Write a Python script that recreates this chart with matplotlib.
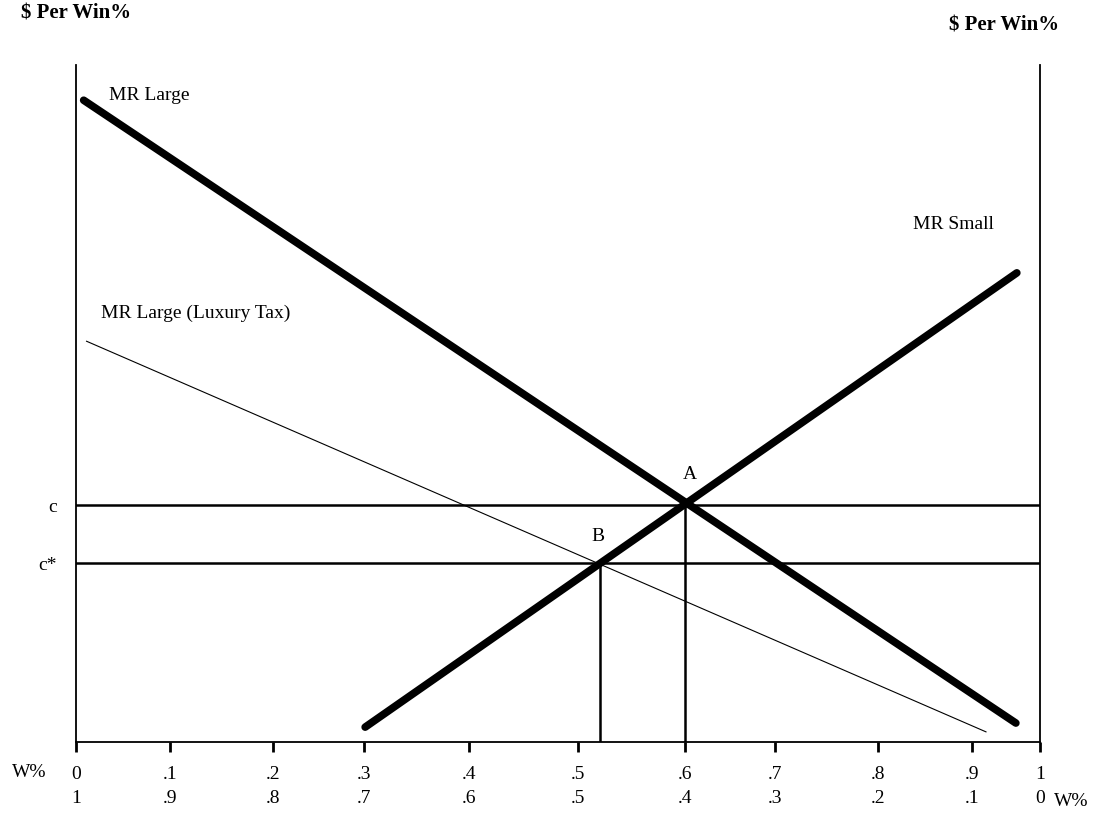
import numpy as np
import matplotlib.pyplot as plt

plt.rcParams['font.family'] = ['Liberation Serif', 'DejaVu Serif']

# curves: (x from 0 to 1 in W%, y in $ per win% on a 0-100 scale)
mr_large_x = [0.008, 0.975]
mr_large_y = [94.8, 2.8]
mr_small_x = [0.30, 0.976]
mr_small_y = [2.2, 69.3]
mr_tax_x = [0.011, 0.944]
mr_tax_y = [59.2, 1.5]

c_level = 35.0
c_star_level = 26.4
point_a = (0.632, 35.0)
point_b = (0.544, 26.4)

# hand-drawn tick spots on the W% axis
tick_pos = [0, 0.0975, 0.204, 0.299, 0.408, 0.521, 0.632, 0.725, 0.832, 0.930, 1.0]
tick_top = ['0', '.1', '.2', '.3', '.4', '.5', '.6', '.7', '.8', '.9', '1']
tick_bottom = ['1', '.9', '.8', '.7', '.6', '.5', '.4', '.3', '.2', '.1', '0']

fig = plt.figure(figsize=(11.04, 8.19), dpi=100)
ax = fig.add_axes([0.0688, 0.094, 0.8732, 0.8266])
ax.set_xlim(0, 1)
ax.set_ylim(0, 100)

ax.plot(mr_large_x, mr_large_y, color='black', lw=5.5, solid_capstyle='round')
ax.plot(mr_small_x, mr_small_y, color='black', lw=5.5, solid_capstyle='round')
ax.plot(mr_tax_x, mr_tax_y, color='black', lw=0.8)

ax.axhline(c_level, color='black', lw=1.8)
ax.axhline(c_star_level, color='black', lw=1.8)
ax.plot([point_a[0], point_a[0]], [0, point_a[1]], color='black', lw=1.8)
ax.plot([point_b[0], point_b[0]], [0, point_b[1]], color='black', lw=1.8)

fs = 14
ax.text(point_a[0] + 0.005, point_a[1] + 4.5, 'A', fontsize=fs, ha='center', va='center')
ax.text(point_b[0] - 0.002, point_b[1] + 4.0, 'B', fontsize=fs, ha='center', va='center')
ax.text(0.034, 95.5, 'MR Large', fontsize=fs, ha='left', va='center')
ax.text(0.026, 63.3, 'MR Large (Luxury Tax)', fontsize=fs, ha='left', va='center')
ax.text(0.868, 76.5, 'MR Small', fontsize=fs, ha='left', va='center')

ax.spines['top'].set_visible(False)
for side in ['left', 'right', 'bottom']:
    ax.spines[side].set_linewidth(1.3)

ax.set_yticks([c_level, c_star_level])
ax.set_yticklabels(['c', 'c*'], fontsize=fs)
ax.tick_params(axis='y', length=0, pad=14)

ax.set_xticks(tick_pos)
ax.set_xticklabels([t + '\n' + b for t, b in zip(tick_top, tick_bottom)],
                   fontsize=fs, linespacing=1.6)
ax.tick_params(axis='x', direction='out', length=7, width=2, pad=10)

fig.text(0.019, 0.983, '$ Per Win%', fontsize=15, fontweight='bold', ha='left', va='center')
fig.text(0.860, 0.969, '$ Per Win%', fontsize=15, fontweight='bold', ha='left', va='center')
fig.text(0.011, 0.057, 'W%', fontsize=fs, ha='left', va='center')
fig.text(0.955, 0.021, 'W%', fontsize=fs, ha='left', va='center')

fig.savefig('out.png', dpi=100)
